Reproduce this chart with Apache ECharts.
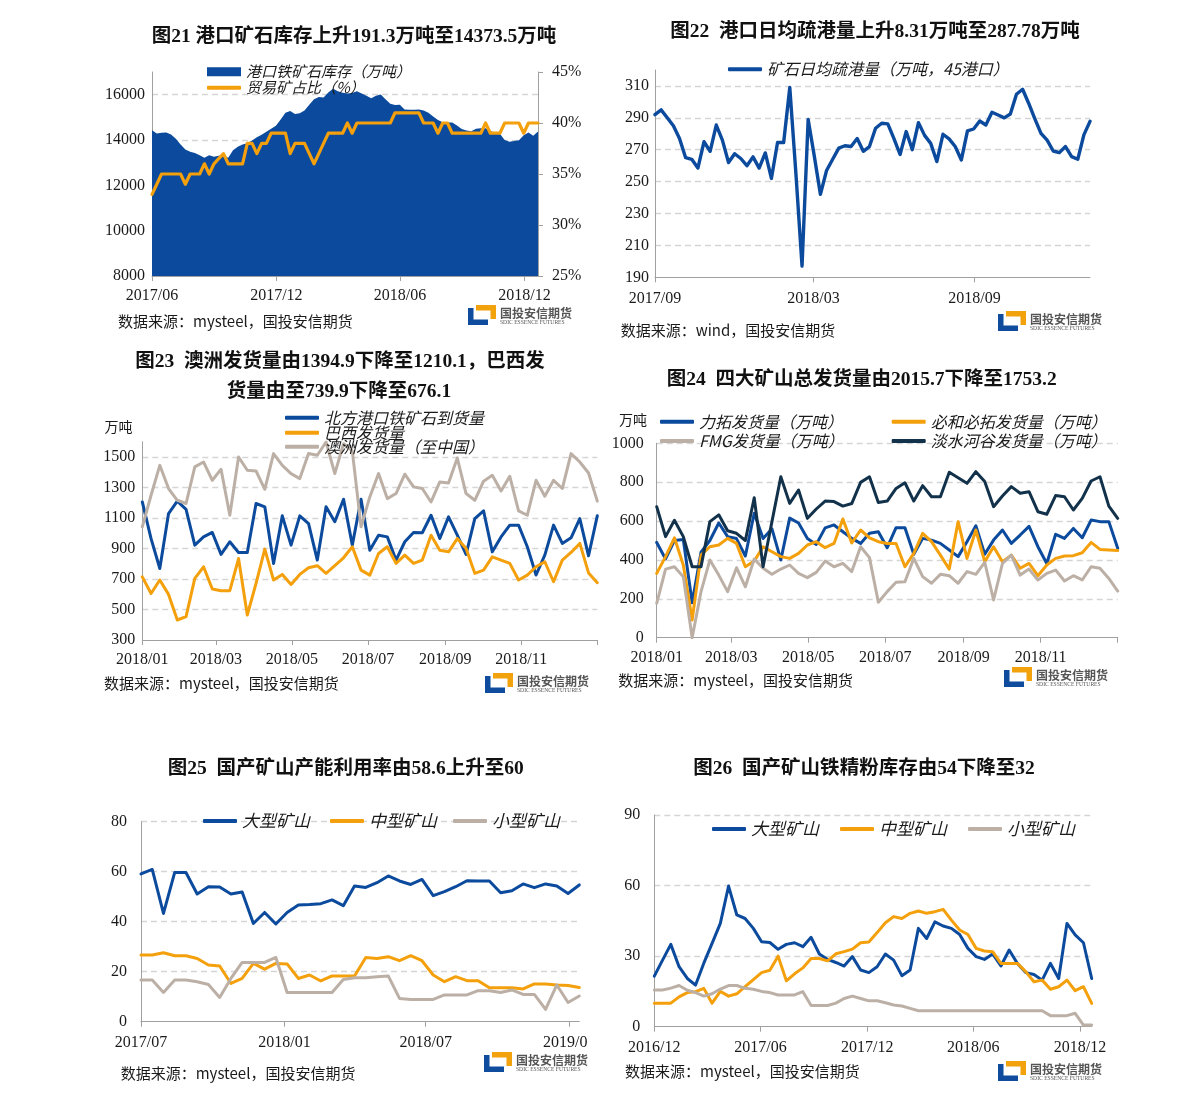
<!DOCTYPE html>
<html><head><meta charset="utf-8">
<script src="https://cdn.jsdelivr.net/npm/echarts@6/dist/echarts.min.js"></script>
<style>
html,body{margin:0;padding:0;background:#fff;}
body{width:1191px;height:1102px;overflow:hidden;position:relative;}
.c{position:absolute;overflow:hidden;}
</style></head>
<body>
<div id="c21" class="c" style="left:0;top:0;width:600px;height:345px"></div>
<div id="c22" class="c" style="left:600px;top:0;width:591px;height:345px"></div>
<div id="c23" class="c" style="left:0;top:345px;width:600px;height:355px"></div>
<div id="c24" class="c" style="left:600px;top:345px;width:591px;height:355px"></div>
<div id="c25" class="c" style="left:0;top:740px;width:589px;height:362px"></div>
<div id="c26" class="c" style="left:600px;top:740px;width:591px;height:362px"></div>
<script>
// ---------------- DATA ----------------
// Fig 21: port iron ore inventory (weekly) and trade ore share (%)
const c21Inv = [14430,14290,14320,14330,14240,14050,13800,13580,13480,13430,
13330,13220,13330,13260,13300,13320,13220,13550,13700,13800,
13860,13980,14120,14230,14360,14500,14630,14900,15200,15280,
15150,15180,15300,15550,15800,15900,15880,16100,16260,16150,
16080,16050,16070,16150,16050,15950,15840,15950,16010,15800,
15600,15540,15550,15350,15330,15340,15350,15300,15200,15040,
14880,14780,14770,14770,14640,14480,14420,14390,14500,14520,
14520,14400,14320,14280,14000,13920,13960,13990,14210,14330,
14182,14373.5];
const c21Share = [33,34,35,35,35,35,35,34,35,35,
35,36,35,36,36.5,37,36,36,36,36,
38,38,37,38,38,39,39,39,39,37,
38,38,38,37,36,37,38,39,39,39,
39,40,39,40,40,40,40,40,40,40,
40,41,41,41,41,41,41,40,40,40,
39,40,40,39,39,39,39,39,39,39,
40,39,39,39,40,40,40,40,39,40,
40,40];
const c21Range = ['2017-06-01','2018-12-21'];
const c21Ticks = ['2017-06-01','2017-12-01','2018-06-01','2018-12-01'];
const c21TickLabels = ['2017/06','2017/12','2018/06','2018/12'];

// Fig 22: daily average port clearance (weekly)
const c22Clear = [292,295,290,285,277,265,264,258.5,275,269,
285.5,276,262,267.5,264.5,260,265.5,258.5,268,252,
274.5,274.5,309,255,197,289,266,242,257,264,
271,272.5,272,277,269,272,283.5,286.6,286.2,277,
267,281.4,270,287,279,274,262.6,279.7,276.8,272,
263.6,281.8,283,288,285.5,293.5,291.8,290,292.4,304.8,
307.9,299,289.3,280.3,276,269.2,268.2,272,265.7,264,
279.3,287.78];
const c22Range = ['2017-09-01','2019-01-11'];
const c22Ticks = ['2017-09-01','2018-03-01','2018-09-01'];
const c22TickLabels = ['2017/09','2018/03','2018/09'];

// Fig 23: arrivals / shipments (weekly, 2018)
const c23North = [1205,965,769,1129,1210,1157,922,976,1005,861,
944,874,874,1195,1173,802,1114,922,1114,1063,
824,1173,1075,1223,922,1223,889,987,976,824,
944,1005,1003,1118,965,1107,987,861,1096,1147,
878,976,1053,1053,911,726,856,1053,933,970,
1096,852,1114];
const c23Brazil = [714,605,693,599,431,453,704,780,634,623,
623,834,464,671,896,693,730,664,730,774,
787,737,787,839,911,758,725,867,911,802,
856,802,824,987,889,878,965,900,737,758,
845,824,802,693,725,780,813,682,824,874,
933,739.9,676.1];
const c23Aus = [1042,1249,1445,1293,1216,1195,1435,1467,1347,1419,
1118,1500,1413,1408,1288,1522,1445,1391,1358,1522,
1511,1598,1391,1587,1540,1042,1238,1391,1227,1260,
1387,1304,1293,1205,1336,1330,1493,1260,1216,1341,
1380,1277,1373,1147,1118,1347,1243,1347,1293,1522,
1467,1394.9,1210.1];
const c23Range = ['2018-01-01','2019-01-01'];
const c23Ticks = ['2018-01-01','2018-03-01','2018-05-01','2018-07-01','2018-09-01','2018-11-01','2019-01-01'];
const c23TickLabels = ['2018/01','2018/03','2018/05','2018/07','2018/09','2018/11',''];

// Fig 24: four major miners shipments (weekly, 2018)
const c24Rio = [490,405,500,505,180,440,500,590,520,510,
420,640,510,560,400,615,590,510,480,565,
580,545,511,485,537,545,463,566,566,429,
511,502,485,451,417,494,576,429,502,554,
485,528,573,468,382,532,511,562,514,605,
597,597,460];
const c24Bhp = [331,417,514,374,91,425,468,477,511,485,
365,394,468,442,417,408,434,477,494,463,
485,611,487,554,514,494,485,485,365,434,
537,494,425,353,597,408,554,391,468,391,
425,357,382,319,374,408,420,422,437,490,
454,451,448];
const c24Fmg = [177,353,365,314,0,237,400,322,237,360,
262,405,357,326,353,374,331,309,336,394,
365,382,340,468,412,182,237,285,288,408,
314,280,326,319,280,340,326,388,194,382,
425,322,353,297,331,348,292,319,297,365,
357,305,240];
const c24Vale = [674,520,604,520,365,365,597,632,550,537,
500,720,365,597,828,691,760,614,662,703,
700,677,690,799,828,696,703,768,797,703,
782,725,725,851,823,794,854,803,674,729,
777,743,751,648,635,731,725,657,717,806,
828,677,614];
const c24Range = ['2018-01-01','2019-01-01'];
const c24Ticks = ['2018-01-01','2018-03-01','2018-05-01','2018-07-01','2018-09-01','2018-11-01','2019-01-01'];
const c24TickLabels = ['2018/01','2018/03','2018/05','2018/07','2018/09','2018/11',''];

// Fig 25: domestic mine capacity utilization (biweekly)
const c25Large = [59.1,60.9,43.3,59.7,59.7,51.1,54,53.9,51.1,51.9,
39.3,43.7,39.1,43.7,46.7,46.9,47.2,48.7,46.4,54.3,
53.7,55.6,58.3,56.3,54.9,56.9,50.4,52,54,56.4,
56.3,56.3,51.6,52.4,55.1,53.6,55.1,54.3,51.3,54.7];
const c25Medium = [26.7,26.7,27.6,26.4,26.4,25.3,22.7,22.3,15.3,17.3,
23.3,21,23.3,23.1,17.3,18.7,16.3,18.3,18.3,18.3,
25.7,25.3,26,24.4,26.4,24.4,18.7,16,18,16.4,
16.4,13.6,13.6,13.6,13.1,15.1,15.1,14.7,14.5,13.7];
const c25Small = [16.7,16.7,11.7,16.7,16.7,16,14.9,9.7,17.3,23.7,
23.7,23.7,25.7,11.7,11.7,11.7,11.7,11.7,16.9,17.6,
17.6,18,18.3,9.3,8.9,8.9,8.9,10.7,10.7,10.7,
12.4,12.4,11.7,12.7,10.9,10.9,4.9,14.7,7.7,10.3];
const c25Range = ['2017-07-01','2019-01-14'];
const c25Ticks = ['2017-07-01','2018-01-01','2018-07-01','2019-01-01'];
const c25TickLabels = ['2017/07','2018/01','2018/07','2019/01'];

// Fig 26: domestic mine concentrate inventory (biweekly)
const c26Large = [21.5,28.3,35,25.5,20.5,17.7,27,35.4,43.9,59.8,
47.5,46,41.8,36.1,35.8,32.9,35,35.7,34,38,
30.9,28.6,27.3,25.8,29.8,24.1,23,25.5,30.9,28.3,
21.7,24.1,41.8,37.5,44.6,42.8,41.8,39.2,33.3,29.8,
28.6,30.9,25.8,32.6,26.9,23,22.2,19.8,26.9,20.5,
43.9,39,35.7,20.5];
const c26Medium = [10,10,10,12.7,14.5,14.9,16.3,10,15,13,
14,17,20,23,24,30,19.5,22.5,25,29,
29,28,31,31.9,33,35.7,36,40,44.2,46.8,
46,48.2,49.2,48.2,48.9,49.9,45.3,41.1,39.2,33.3,
32.2,31.9,26.9,26.9,26.9,23.4,19.1,19.8,15.9,17,
19.8,15.3,17,9.9];
const c26Small = [15.6,15.6,16.4,17.5,15.5,14.5,13,14,16,17.5,
17.5,16.3,15.9,15,14.5,13.5,13.5,13.5,14.9,9,
9,9,10,12,13,12,11,11,10.2,9.2,
8.8,7.8,6.8,6.8,6.8,6.8,6.8,6.8,6.8,6.8,
6.8,6.8,6.8,6.8,6.8,6.8,6.8,6.8,4.7,4.7,
4.7,5.7,0.7,0.7];
const c26Range = ['2016-12-01','2018-12-21'];
const c26Ticks = ['2016-12-01','2017-06-01','2017-12-01','2018-06-01','2018-12-01'];
const c26TickLabels = ['2016/12','2017/06','2017/12','2018/06','2018/12'];

// ---------------- STYLE / HELPERS ----------------
const SERIF = '"Liberation Serif","Noto Sans CJK SC",serif';
const SANS = '"Noto Sans CJK SC","Noto Sans",sans-serif';
const BLUE = '#0B4A9C', ORANGE = '#F4A00C', GRAY = '#BCB0A6', NAVY = '#12314A';
const AXISC = '#A0A0A0', GRIDC = '#D5D5D5', TXT = '#1a1a1a';

function ts(s){ const p = s.split('-').map(Number); return Date.UTC(p[0], p[1]-1, p[2]); }
function spread(range, n){ const a = ts(range[0]), b = ts(range[1]); const out = []; for (let i = 0; i < n; i++) out.push(a + (b - a) * i / (n - 1)); return out; }

function xAxisCfg(range, ticks, labels, margin){
  const tv = ticks.map(ts);
  return {
    type: 'value', min: ts(range[0]), max: ts(range[1]),
    axisLine: {show: true, onZero: false, lineStyle: {color: AXISC, width: 1}},
    axisTick: {show: true, customValues: tv, length: 5, lineStyle: {color: AXISC}},
    axisLabel: {customValues: tv, margin: margin, fontFamily: SERIF, fontSize: 16, color: TXT,
      formatter: function(v){ for (let i = 0; i < tv.length; i++) if (Math.abs(tv[i] - v) < 43200000) return labels[i]; return ''; }},
    splitLine: {show: false}
  };
}
function yAxisCfg(min, max, interval, o){
  o = o || {};
  const suffix = o.suffix || '';
  const lab = {fontFamily: SERIF, fontSize: 16, color: TXT, margin: o.margin == null ? 7 : o.margin,
    showMaxLabel: o.showMax !== false, formatter: function(v){ return String(v) + suffix; }};
  return {
    type: 'value', min: min, max: max, interval: interval, position: o.position || 'left',
    axisLine: {show: true, lineStyle: {color: AXISC}},
    axisTick: {show: !!o.tick, length: 5, lineStyle: {color: AXISC}},
    axisLabel: lab,
    splitLine: {show: o.split !== false, showMaxLine: o.showMax !== false, showMinLine: false,
      lineStyle: {color: GRIDC, type: [6, 4], width: 1.3}}
  };
}
function lineS(name, xs, ys, color, w, extra){
  return Object.assign({type: 'line', name: name, data: ys.map(function(v, i){ return [xs[i], v]; }),
    symbol: 'none', showSymbol: false, animation: false,
    lineStyle: {color: color, width: w, join: 'round', cap: 'round'}, itemStyle: {color: color}}, extra || {});
}
function leg(name, left, cy, fs, icon, ih){
  return {show: true, data: [{name: name, icon: icon || 'roundRect'}], left: left, top: cy - fs / 2,
    orient: 'horizontal', itemWidth: 34, itemHeight: ih || 4, padding: 0, itemGap: 0, selectedMode: false,
    textStyle: {fontFamily: SANS, fontStyle: 'italic', fontSize: fs, color: TXT}};
}
function txt(x, y, text, font, align, extra){
  return {type: 'text', x: x, y: y, silent: true,
    style: Object.assign({text: text, font: font, fill: TXT, align: align || 'left', verticalAlign: 'middle'}, extra || {})};
}
function title(x, y, text){ return txt(x, y, text, 'bold 19.5px ' + SERIF, 'center', {fill: '#111'}); }
function source(x, y, text){ return txt(x, y, text, '15px ' + SANS, 'left'); }
function logo(x, y){
  return {type: 'group', x: x, y: y, silent: true, children: [
    {type: 'polygon', shape: {points: [[0,3],[5.5,3],[5.5,14.5],[20,14.5],[20,20],[0,20]]}, style: {fill: '#0F4C9E'}},
    {type: 'polygon', shape: {points: [[8,0],[28,0],[28,14],[22.5,14],[22.5,5.5],[8,5.5]]}, style: {fill: '#F2A20C'}},
    {type: 'text', x: 32, y: 8.5, style: {text: '国投安信期货', font: 'bold 12px ' + SANS, fill: '#555', verticalAlign: 'middle'}},
    {type: 'text', x: 32, y: 17.5, style: {text: 'SDIC ESSENCE FUTURES', font: '5.6px "Liberation Serif"', fill: '#555', verticalAlign: 'middle'}}
  ]};
}
function gridCfg(l, t, w, h){ return {left: l, top: t, width: w, height: h, containLabel: false, outerBoundsMode: 'none', show: false}; }
function mk(id, opt){ const ch = echarts.init(document.getElementById(id), null, {renderer: 'canvas'}); opt.animation = false; ch.setOption(opt); }

// ---------------- FIG 21 ----------------
const d21 = spread(c21Range, c21Inv.length);
mk('c21', {
  grid: gridCfg(152, 72, 386, 204),
  xAxis: xAxisCfg(c21Range, c21Ticks, c21TickLabels, 12),
  yAxis: [yAxisCfg(8000, 17000, 2000, {showMax: false, margin: 7}),
          yAxisCfg(25, 45, 5, {position: 'right', split: false, tick: true, margin: 14, suffix: '%'})],
  legend: [leg('港口铁矿石库存（万吨）', 207, 71.7, 15, 'rect', 9), leg('贸易矿占比（%）', 207, 87.7, 15)],
  series: [
    lineS('港口铁矿石库存（万吨）', d21, c21Inv, BLUE, 0, {areaStyle: {color: BLUE, opacity: 1}, yAxisIndex: 0}),
    lineS('贸易矿占比（%）', d21, c21Share, ORANGE, 3.2, {yAxisIndex: 1})
  ],
  graphic: [title(354, 36.7, '图21 港口矿石库存上升191.3万吨至14373.5万吨'),
            source(118, 321, '数据来源：mysteel，国投安信期货'), logo(468, 305)]
});

// ---------------- FIG 22 ----------------
const d22 = spread(c22Range, c22Clear.length);
mk('c22', {
  grid: gridCfg(55, 70, 435, 207.3),
  xAxis: xAxisCfg(c22Range, c22Ticks, c22TickLabels, 13),
  yAxis: yAxisCfg(190, 320, 20, {showMax: false, margin: 6}),
  legend: [leg('矿石日均疏港量（万吨，45港口）', 128, 69.3, 16)],
  series: [lineS('矿石日均疏港量（万吨，45港口）', d22, c22Clear, BLUE, 3.4)],
  graphic: [title(275, 31.7, '图22  港口日均疏港量上升8.31万吨至287.78万吨'),
            source(20.7, 330, '数据来源：wind，国投安信期货'), logo(398, 311)]
});

// ---------------- FIG 23 ----------------
const d23 = spread(c23Range, c23North.length);
mk('c23', {
  grid: gridCfg(142.3, 96.7, 455, 198.3),
  xAxis: xAxisCfg(c23Range, c23Ticks, c23TickLabels, 12),
  yAxis: yAxisCfg(300, 1600, 200, {showMax: false, margin: 7}),
  legend: [leg('北方港口铁矿石到货量', 285, 72.7, 16), leg('巴西发货量', 285, 87.7, 16), leg('澳洲发货量（至中国）', 285, 101.7, 16)],
  series: [
    lineS('北方港口铁矿石到货量', d23, c23North, BLUE, 3),
    lineS('巴西发货量', d23, c23Brazil, ORANGE, 3),
    lineS('澳洲发货量（至中国）', d23, c23Aus, GRAY, 3)
  ],
  graphic: [title(340, 16.7, '图23  澳洲发货量由1394.9下降至1210.1，巴西发'),
            title(339, 46.7, '货量由至739.9下降至676.1'),
            txt(118.5, 83, '万吨', '14px ' + SERIF, 'center'),
            source(104, 338, '数据来源：mysteel，国投安信期货'), logo(485, 328)]
});

// ---------------- FIG 24 ----------------
const d24 = spread(c24Range, c24Rio.length);
mk('c24', {
  grid: gridCfg(56.7, 98.3, 461, 194.4),
  xAxis: xAxisCfg(c24Range, c24Ticks, c24TickLabels, 12),
  yAxis: yAxisCfg(0, 1000, 200, {margin: 13}),
  legend: [leg('力拓发货量（万吨）', 60, 76.7, 16), leg('FMG发货量（万吨）', 60, 96, 16),
           leg('必和必拓发货量（万吨）', 291.7, 76.7, 16), leg('淡水河谷发货量（万吨）', 291.7, 96, 16)],
  series: [
    lineS('力拓发货量（万吨）', d24, c24Rio, BLUE, 3),
    lineS('必和必拓发货量（万吨）', d24, c24Bhp, ORANGE, 3),
    lineS('FMG发货量（万吨）', d24, c24Fmg, GRAY, 3),
    lineS('淡水河谷发货量（万吨）', d24, c24Vale, NAVY, 3)
  ],
  graphic: [title(261.7, 35, '图24  四大矿山总发货量由2015.7下降至1753.2'),
            txt(33, 76, '万吨', '14px ' + SERIF, 'center'),
            source(18.3, 335, '数据来源：mysteel，国投安信期货'), logo(404, 322)]
});

// ---------------- FIG 25 ----------------
const d25 = spread(c25Range, c25Large.length);
mk('c25', {
  grid: gridCfg(141, 81.7, 438.3, 200),
  xAxis: xAxisCfg(c25Range, c25Ticks, c25TickLabels, 13),
  yAxis: yAxisCfg(0, 80, 20, {margin: 14}),
  legend: [leg('大型矿山', 203, 81, 17), leg('中型矿山', 330, 81, 17), leg('小型矿山', 453, 81, 17)],
  series: [
    lineS('大型矿山', d25, c25Large, BLUE, 3),
    lineS('中型矿山', d25, c25Medium, ORANGE, 3),
    lineS('小型矿山', d25, c25Small, GRAY, 3)
  ],
  graphic: [title(345.8, 29, '图25  国产矿山产能利用率由58.6上升至60'),
            source(120.7, 333, '数据来源：mysteel，国投安信期货'), logo(484, 312)]
});

// ---------------- FIG 26 ----------------
const d26 = spread(c26Range, c26Large.length);
mk('c26', {
  grid: gridCfg(54.3, 75, 437.4, 211.7),
  xAxis: xAxisCfg(c26Range, c26Ticks, c26TickLabels, 13),
  yAxis: yAxisCfg(0, 90, 30, {margin: 14}),
  legend: [leg('大型矿山', 112, 89, 17), leg('中型矿山', 240, 89, 17), leg('小型矿山', 368, 89, 17)],
  series: [
    lineS('大型矿山', d26, c26Large, BLUE, 3),
    lineS('中型矿山', d26, c26Medium, ORANGE, 3),
    lineS('小型矿山', d26, c26Small, GRAY, 3)
  ],
  graphic: [title(264, 29, '图26  国产矿山铁精粉库存由54下降至32'),
            source(25, 331.7, '数据来源：mysteel，国投安信期货'), logo(398, 321)]
});
</script>
</body></html>
